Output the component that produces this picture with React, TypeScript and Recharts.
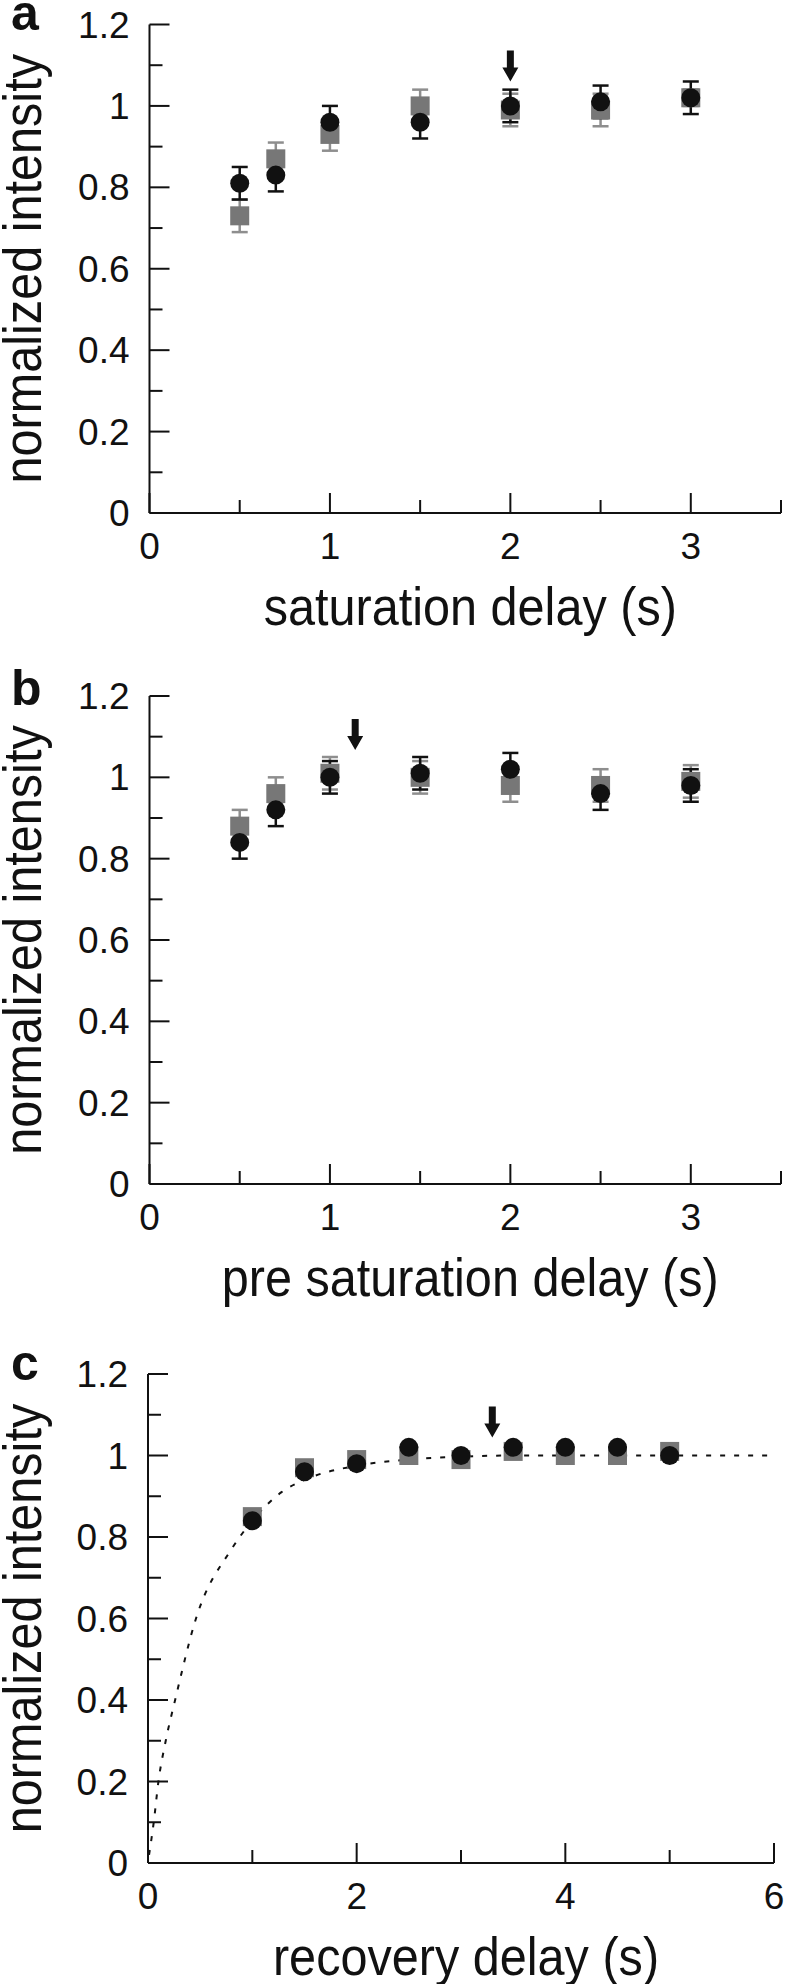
import React from 'react';
import { ComposedChart, Scatter, Line, XAxis, YAxis, ErrorBar, Label } from 'recharts';

const FONT = '"Liberation Sans", Arial, Helvetica, sans-serif';
const INK = '#111111';
const GRAY_MARK = '#777777';
const GRAY_BAR = '#8e8e8e';
const TITLE_SIZE = 54;
const TITLE_SQUEEZE = 0.9;

// ---- ticks ----
const yTicks = [0, 0.1, 0.2, 0.3, 0.4, 0.5, 0.6, 0.7, 0.8, 0.9, 1.0, 1.1, 1.2];
const yTickLabels = ['0', '0.2', '0.4', '0.6', '0.8', '1', '1.2'];
const xTicksAB = [0, 0.5, 1, 1.5, 2, 2.5, 3, 3.5];
const xTickLabelsAB = ['0', '1', '2', '3'];
const xTicksC = [0, 1, 2, 3, 4, 5, 6];
const xTickLabelsC = ['0', '2', '4', '6'];

// ---- panel a ----
const delaysA = [0.5, 0.7, 1, 1.5, 2, 2.5, 3];
const grayA = [0.73, 0.87, 0.93, 1.0, 0.99, 0.99, 1.02];
const grayErrA = [0.04, 0.04, 0.04, 0.04, 0.04, 0.04, 0.02];
const blackA = [0.81, 0.83, 0.96, 0.96, 1.0, 1.01, 1.02];
const blackErrA = [0.04, 0.04, 0.04, 0.04, 0.04, 0.04, 0.04];
const arrowA = [{ x: 2, y: 1.06 }];

// ---- panel b ----
const delaysB = [0.5, 0.7, 1, 1.5, 2, 2.5, 3];
const grayB = [0.88, 0.96, 1.01, 1.0, 0.98, 0.98, 0.99];
const grayErrB = [0.04, 0.04, 0.04, 0.04, 0.04, 0.04, 0.04];
const blackB = [0.84, 0.92, 1.0, 1.01, 1.02, 0.96, 0.98];
const blackErrB = [0.04, 0.04, 0.04, 0.04, 0.04, 0.04, 0.04];
const arrowB = [{ x: 1.14, y: 1.067 }];

// ---- panel c ----
const delaysC = [1, 1.5, 2, 2.5, 3, 3.5, 4, 4.5, 5];
const grayC = [0.85, 0.97, 0.99, 1.0, 0.99, 1.01, 1.0, 1.0, 1.01];
const blackC = [0.84, 0.96, 0.98, 1.02, 1.0, 1.02, 1.02, 1.02, 1.0];
const curveXC = [0.01, 0.055, 0.1, 0.17, 0.26, 0.46, 0.8, 1.0, 1.28, 1.5, 2.0, 2.5, 3.0, 3.5, 4, 5, 6];
const curveYC = [0.02, 0.1, 0.2, 0.3, 0.4, 0.6, 0.77, 0.84, 0.91, 0.94, 0.975, 0.99, 0.997, 1.0, 1.0, 1.0, 1.0];
const arrowC = [{ x: 3.3, y: 1.044 }];

const zip = (xs: number[], ys: number[], errs?: number[]) =>
  xs.map((x, i) => ({ x, y: ys[i], err: errs ? errs[i] : 0 }));

const fmt = (v: number) => String(Number(Number(v).toFixed(1)));

const SquareShape = (p: any) => (
  <rect x={p.cx - 9.5} y={p.cy - 9.5} width={19} height={19} fill={GRAY_MARK} />
);
const CircleShape = (p: any) => <circle cx={p.cx} cy={p.cy} r={9.5} fill={INK} />;
const ArrowShape = (p: any) => {
  const { cx, cy } = p;
  return (
    <polygon
      points={`${cx - 3.5},${cy - 31} ${cx + 3.5},${cy - 31} ${cx + 3.5},${cy - 14} ${cx + 8},${cy - 14} ${cx},${cy} ${cx - 8},${cy - 14} ${cx - 3.5},${cy - 14}`}
      fill={INK}
    />
  );
};

const makeBottomTick = (labels: string[]) => (props: any) => {
  const { x, y, payload } = props;
  const label = fmt(payload.value);
  const major = labels.includes(label);
  return (
    <g>
      <line x1={x} x2={x} y1={y} y2={y - (major ? 20 : 13)} stroke={INK} strokeWidth={2} />
      {major && (
        <text x={x} y={y + 46} textAnchor="middle" fontSize={37} fontFamily={FONT} fill={INK}>
          {label}
        </text>
      )}
    </g>
  );
};
const makeTopTick = (labels: string[]) => (props: any) => {
  const { x, y, payload } = props;
  const major = labels.includes(fmt(payload.value));
  return <line x1={x} x2={x} y1={y} y2={y + (major ? 20 : 13)} stroke={INK} strokeWidth={2} />;
};
const LeftTick = (props: any) => {
  const { x, y, payload } = props;
  const label = fmt(payload.value);
  const major = yTickLabels.includes(label);
  return (
    <g>
      <line x1={x} x2={x + (major ? 20 : 13)} y1={y} y2={y} stroke={INK} strokeWidth={2} />
      {major && (
        <text x={x - 20} y={y + 13} textAnchor="end" fontSize={37} fontFamily={FONT} fill={INK}>
          {label}
        </text>
      )}
    </g>
  );
};
const RightTick = (props: any) => {
  const { x, y, payload } = props;
  const major = yTickLabels.includes(fmt(payload.value));
  return <line x1={x} x2={x - (major ? 20 : 13)} y1={y} y2={y} stroke={INK} strokeWidth={2} />;
};

type PanelProps = {
  top: number;
  height: number;
  plotLeft: number;
  plotRight: number;
  plotTop: number;
  plotBottom: number;
  xDomain: [number, number];
  xTicks: number[];
  xLabels: string[];
  xTitle: string;
  letter: string;
  letterY: number;
  gray: any[];
  black: any[];
  arrow: any[];
  errors: boolean;
  curve?: any[];
};

const Panel = (p: PanelProps) => {
  const W = 787;
  const axisStyle = { stroke: INK, strokeWidth: 2 };
  const plotMidY = (p.plotTop + p.plotBottom) / 2;
  const plotMidX = (p.plotLeft + p.plotRight) / 2;
  const yTitleX = 41;
  return (
    <div style={{ position: 'absolute', left: 0, top: p.top, width: W, height: p.height }}>
      <ComposedChart
        width={W}
        height={p.height}
        margin={{ top: p.plotTop, right: W - p.plotRight, bottom: 0, left: 0 }}
      >
        <XAxis
          xAxisId="b"
          dataKey="x"
          type="number"
          domain={p.xDomain}
          allowDataOverflow
          ticks={p.xTicks}
          interval={0}
          height={p.height - p.plotBottom}
          tickSize={0}
          tickMargin={0}
          tickLine={false}
          axisLine={axisStyle}
          tick={makeBottomTick(p.xLabels)}
        >
          <Label
            content={() => (
              <text
                x={0}
                y={0}
                transform={`translate(${plotMidX + 5}, ${p.plotBottom + 112}) scale(${TITLE_SQUEEZE}, 1)`}
                textAnchor="middle"
                fontSize={TITLE_SIZE}
                fontFamily={FONT}
                fill={INK}
              >
                {p.xTitle}
              </text>
            )}
          />
        </XAxis>
        <XAxis
          xAxisId="t"
          dataKey="x"
          type="number"
          orientation="top"
          domain={p.xDomain}
          allowDataOverflow
          ticks={p.xTicks}
          interval={0}
          height={0}
          tickSize={0}
          tickMargin={0}
          tickLine={false}
          axisLine={axisStyle}
          tick={makeTopTick(p.xLabels)}
        />
        <YAxis
          yAxisId="l"
          dataKey="y"
          type="number"
          domain={[0, 1.2]}
          allowDataOverflow
          ticks={yTicks}
          interval={0}
          width={p.plotLeft}
          tickSize={0}
          tickMargin={0}
          tickLine={false}
          axisLine={axisStyle}
          tick={LeftTick}
        >
          <Label
            content={() => (
              <g>
                <text
                  x={0}
                  y={0}
                  transform={`translate(${yTitleX}, ${plotMidY}) rotate(-90) scale(${TITLE_SQUEEZE}, 1)`}
                  textAnchor="middle"
                  fontSize={TITLE_SIZE}
                  fontFamily={FONT}
                  fill={INK}
                >
                  normalized intensity
                </text>
                <text
                  x={11}
                  y={p.letterY}
                  fontSize={50}
                  fontWeight="bold"
                  fontFamily={FONT}
                  fill={INK}
                >
                  {p.letter}
                </text>
              </g>
            )}
          />
        </YAxis>
        <YAxis
          yAxisId="r"
          orientation="right"
          type="number"
          domain={[0, 1.2]}
          allowDataOverflow
          ticks={yTicks}
          interval={0}
          width={0}
          tickSize={0}
          tickMargin={0}
          tickLine={false}
          axisLine={axisStyle}
          tick={RightTick}
        />
        {p.curve && (
          <Line
            xAxisId="b"
            yAxisId="l"
            data={p.curve}
            dataKey="y"
            type="monotone"
            dot={false}
            activeDot={false}
            stroke={INK}
            strokeWidth={2}
            strokeDasharray="5 9"
            isAnimationActive={false}
          />
        )}
        <Scatter xAxisId="b" yAxisId="l" data={p.gray} shape={SquareShape} isAnimationActive={false}>
          {p.errors && (
            <ErrorBar dataKey="err" direction="y" width={8} stroke={GRAY_BAR} strokeWidth={2.5} />
          )}
        </Scatter>
        <Scatter xAxisId="b" yAxisId="l" data={p.black} shape={CircleShape} isAnimationActive={false}>
          {p.errors && <ErrorBar dataKey="err" direction="y" width={8} stroke={INK} strokeWidth={2.5} />}
        </Scatter>
        <Scatter xAxisId="b" yAxisId="l" data={p.arrow} shape={ArrowShape} isAnimationActive={false} />
      </ComposedChart>
    </div>
  );
};

export default function App() {
  return (
    <div
      style={{
        position: 'absolute',
        left: 0,
        top: 0,
        width: 787,
        height: 1984,
        background: '#ffffff',
        overflow: 'hidden',
      }}
    >
      <Panel
        top={0}
        height={660}
        plotLeft={149.5}
        plotRight={781}
        plotTop={24.5}
        plotBottom={513}
        xDomain={[0, 3.5]}
        xTicks={xTicksAB}
        xLabels={xTickLabelsAB}
        xTitle="saturation delay (s)"
        letter="a"
        letterY={30}
        gray={zip(delaysA, grayA, grayErrA)}
        black={zip(delaysA, blackA, blackErrA)}
        arrow={arrowA}
        errors
      />
      <Panel
        top={660}
        height={660}
        plotLeft={149.5}
        plotRight={781}
        plotTop={36}
        plotBottom={524}
        xDomain={[0, 3.5]}
        xTicks={xTicksAB}
        xLabels={xTickLabelsAB}
        xTitle="pre saturation delay (s)"
        letter="b"
        letterY={45}
        gray={zip(delaysB, grayB, grayErrB)}
        black={zip(delaysB, blackB, blackErrB)}
        arrow={arrowB}
        errors
      />
      <Panel
        top={1320}
        height={664}
        plotLeft={148}
        plotRight={774}
        plotTop={54}
        plotBottom={543}
        xDomain={[0, 6]}
        xTicks={xTicksC}
        xLabels={xTickLabelsC}
        xTitle="recovery delay (s)"
        letter="c"
        letterY={60}
        gray={zip(delaysC, grayC)}
        black={zip(delaysC, blackC)}
        arrow={arrowC}
        errors={false}
        curve={zip(curveXC, curveYC)}
      />
    </div>
  );
}
